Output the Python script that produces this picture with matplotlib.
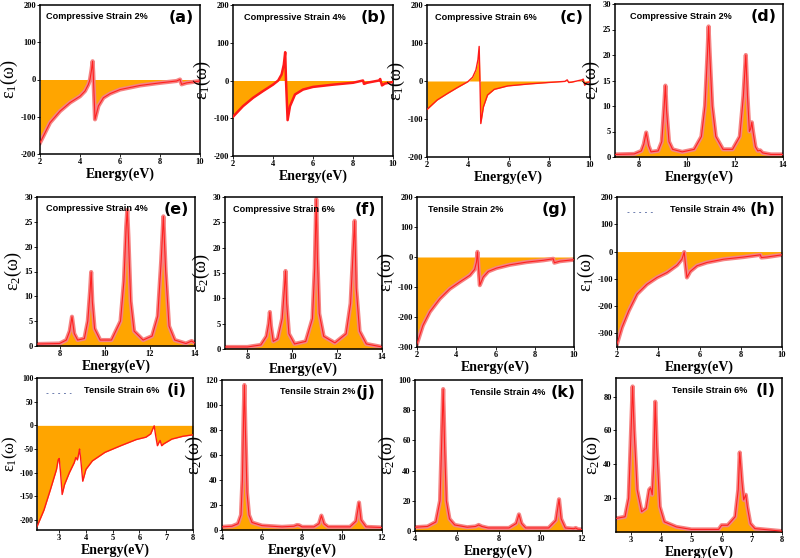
import matplotlib
matplotlib.use('Agg')
import matplotlib.pyplot as plt

plt.rcParams['font.family'] = ['Liberation Serif', 'DejaVu Serif']
plt.rcParams['mathtext.fontset'] = 'custom'
plt.rcParams['mathtext.rm'] = 'Liberation Serif'
plt.rcParams['mathtext.it'] = 'Liberation Serif'
plt.rcParams['axes.unicode_minus'] = False

# ---- data (energy in eV, dielectric function) ----
# (a) compressive 2%, eps1
a_x = [2, 2.5, 3, 3.5, 4, 4.25, 4.42, 4.5, 4.58, 4.63, 4.66, 4.75, 4.92, 5.17, 5.5, 6, 7, 8, 8.83, 9.0, 9.08, 9.33, 10]
a_y = [-170, -116, -85, -62, -45, -31, -13, 0, 27, 49, 20, -107, -71, -49, -38, -27, -16, -9, -4, 0, -13, -9, -4]
# (b) compressive 4%, eps1
b_x = [2, 2.5, 3, 3.5, 4, 4.26, 4.43, 4.54, 4.61, 4.65, 4.73, 4.85, 5.1, 5.5, 6, 7, 8, 8.5, 8.55, 8.7, 9.3, 9.36, 9.45, 9.6, 10]
b_y = [-96, -68, -46, -28, -11, 0, 16, 42, 75, 0, -105, -68, -37, -24, -17, -11, -6, 0, -9, -6, 0, 4, -13, -8, -4]
# (c) compressive 6%, eps1
c_x = [2, 2.5, 3, 3.5, 4, 4.24, 4.4, 4.5, 4.56, 4.6, 4.64, 4.77, 4.97, 5.3, 5.96, 6.95, 7.94, 8.77, 8.88, 8.96, 9.1, 9.6, 9.67, 9.74, 9.84, 10]
c_y = [-75, -50, -33, -17, -2, 10, 29, 56, 91, 0, -112, -68, -37, -22, -13, -8, -4, -1, 3, -4, -3, 3, 5, -11, -4, -2]
# (d) compressive 2%, eps2
d_x = [7, 7.8, 8.1, 8.2, 8.3, 8.4, 8.5, 8.8, 8.95, 9.05, 9.1, 9.15, 9.25, 9.4, 9.8, 10.3, 10.6, 10.75, 10.85, 10.9,
       10.95, 11.05, 11.2, 11.5, 11.9, 12.2, 12.35, 12.45, 12.52, 12.6, 12.65, 12.7, 12.75, 12.85, 12.95, 13.05, 13.15, 13.5, 14]
d_y = [0.5, 0.6, 1.2, 2.5, 4.8, 2.2, 1.0, 1.2, 3.0, 10, 14, 9, 3, 1.5, 1.0, 1.5, 4, 10, 20, 25.6,
       20, 10, 4, 1.5, 1.5, 4, 12, 20, 12, 5, 5.5, 6.8, 5, 2, 1.2, 1.3, 0.8, 0.5, 0.5]
# (e) compressive 4%, eps2
e_x = [7, 8, 8.3, 8.45, 8.55, 8.65, 8.8, 9.1, 9.25, 9.35, 9.4, 9.45, 9.55, 9.8, 10.3, 10.7, 10.85, 10.95, 11.0,
       11.05, 11.15, 11.3, 11.7, 12.1, 12.35, 12.5, 12.6, 12.7, 12.85, 13.1, 13.6, 13.85, 14]
e_y = [0.4, 0.5, 1.2, 3, 5.9, 2.5, 1.2, 1.5, 5, 11, 14.9, 9, 3.5, 1.2, 1.2, 5, 13, 24, 27.4,
       22, 9, 3, 1.2, 2, 6, 17, 26.1, 15, 4, 1.2, 0.5, 1.0, 0.6]
# (f) compressive 6%, eps2
f_x = [7, 8, 8.6, 8.85, 8.95, 9.0, 9.05, 9.15, 9.35, 9.55, 9.65, 9.7, 9.75, 9.85, 10.1, 10.6, 10.9, 11.0, 11.07,
       11.12, 11.2, 11.4, 11.9, 12.4, 12.6, 12.72, 12.78, 12.85, 13.0, 13.3, 14]
f_y = [0.4, 0.4, 0.8, 2.5, 5, 7.3, 4.5, 1.5, 2, 6, 12, 15.4, 9, 3, 1, 1.5, 6, 16, 29.6,
       18, 7, 2.5, 1.2, 3, 9, 20, 25.3, 12, 3.5, 1, 0.4]
# (g) tensile 2%, eps1
g_x = [2, 2.3, 2.65, 3.16, 3.67, 4.18, 4.69, 4.94, 5.03, 5.08, 5.13, 5.2, 5.37, 5.63, 6.05, 6.73, 7.58, 8.43, 8.94, 9.0, 9.28, 10]
g_y = [-289, -228, -183, -139, -106, -83, -61, -41, -17, 17, -30, -94, -67, -48, -37, -26, -17, -11, -6, -19, -14, -9]
# (h) tensile 4%, eps1
h_x = [2, 2.24, 2.57, 2.97, 3.45, 3.94, 4.42, 4.91, 5.15, 5.26, 5.31, 5.39, 5.55, 5.88, 6.36, 7.17, 8.14, 8.95, 9.0, 9.27, 10]
h_y = [-339, -278, -217, -156, -120, -95, -77, -50, -28, -2, -40, -95, -73, -52, -40, -28, -20, -12, -22, -20, -12]
# (i) tensile 6%, eps1
i_x = [2.17, 2.43, 2.67, 2.9, 2.96, 3.0, 3.05, 3.11, 3.2, 3.38, 3.56, 3.62, 3.68, 3.74, 3.76, 3.81, 3.88, 4.0, 4.24,
       4.71, 5.3, 5.88, 6.24, 6.42, 6.5, 6.55, 6.6, 6.67, 6.73, 6.77, 6.83, 6.91, 7.21, 7.63, 8.0]
i_y = [-214, -179, -136, -93, -73, -70, -100, -146, -125, -100, -79, -68, -73, -57, -50, -75, -118, -93, -75,
       -57, -43, -30, -25, -18, -7, -1, -20, -43, -36, -32, -43, -39, -29, -23, -20]
# (j) tensile 2%, eps2
j_x = [4, 4.5, 4.8, 4.95, 5.02, 5.08, 5.12, 5.17, 5.25, 5.35, 5.5, 6, 7, 7.6, 7.75, 7.85, 8.0, 8.6, 8.85, 8.97,
       9.1, 9.3, 10.4, 10.7, 10.85, 10.95, 11.2, 12]
j_y = [2.5, 3, 5, 12, 40, 90, 116, 80, 30, 12, 6, 3.5, 2.5, 3, 4, 3.8, 2.5, 2.5, 5, 11.5,
       5, 2.5, 2.5, 7, 22, 8, 2.5, 2]
# (k) tensile 4%, eps2
k_x = [4, 4.6, 5.0, 5.2, 5.28, 5.35, 5.42, 5.5, 5.65, 5.9, 6.5, 6.9, 7.05, 7.2, 7.5, 8.5, 8.85, 8.98, 9.1, 9.3,
       10.4, 10.75, 10.9, 11.0, 11.2, 11.6, 11.7, 11.8, 12]
k_y = [2.5, 3, 6, 20, 60, 94, 55, 20, 8, 4, 2.5, 3, 4, 3, 2, 2, 5, 11, 5, 2,
       2, 7, 21, 8, 2, 1.5, 2, 1.2, 1]
# (l) tensile 6%, eps2
l_x = [2.5, 2.8, 2.92, 2.98, 3.05, 3.1, 3.2, 3.35, 3.5, 3.6, 3.65, 3.7, 3.75, 3.8, 3.85, 3.95, 4.1, 4.5, 5,
       5.9, 6.0, 6.2, 6.35, 6.45, 6.55, 6.6, 6.67, 6.73, 6.8, 6.85, 6.95, 7.1, 8]
l_y = [8, 9, 20, 50, 86, 60, 25, 12, 14, 25, 26, 22, 40, 77, 50, 15, 6, 3, 1.5,
       1.5, 4, 4, 7, 9, 25, 47, 30, 19, 22, 15, 5, 2, 0.5]

panels = [
    # tag, title, kind, x, y, xlim, xticks, ylim, yticks, line style, title x, box (l, r, t, b in px)
    ('a', 'Compressive Strain 2%', 1, a_x, a_y, (2, 10), [2, 4, 6, 8, 10], (-200, 200), [-200, -100, 0, 100, 200], 'halo', 0.04, (40, 200, 5, 154)),
    ('b', 'Compressive Strain 4%', 1, b_x, b_y, (2, 10), [2, 4, 6, 8, 10], (-200, 200), [-200, -100, 0, 100, 200], 'thick', 0.07, (233, 393, 5, 156)),
    ('c', 'Compressive Strain 6%', 1, c_x, c_y, (2, 10), [2, 4, 6, 8, 10], (-200, 200), [-200, -100, 0, 100, 200], 'thin', 0.05, (427, 590, 5, 157)),
    ('d', 'Compressive Strain 2%', 2, d_x, d_y, (7, 14), [8, 10, 12, 14], (0, 30), [0, 5, 10, 15, 20, 25, 30], 'halo', 0.09, (615, 783, 4, 157)),
    ('e', 'Compressive Strain 4%', 2, e_x, e_y, (7, 14), [8, 10, 12, 14], (0, 30), [0, 5, 10, 15, 20, 25, 30], 'halo', 0.06, (37, 195, 197, 346)),
    ('f', 'Compressive Strain 6%', 2, f_x, f_y, (7, 14), [8, 10, 12, 14], (0, 30), [0, 5, 10, 15, 20, 25, 30], 'halo', 0.05, (225, 382, 197, 349)),
    ('g', 'Tensile Strain 2%', 1, g_x, g_y, (2, 10), [2, 4, 6, 8, 10], (-300, 200), [-300, -200, -100, 0, 100, 200], 'halo', 0.07, (417, 574, 197, 347)),
    ('h', 'Tensile Strain 4%', 1, h_x, h_y, (2, 10), [2, 4, 6, 8, 10], (-350, 200), [-300, -200, -100, 0, 100, 200], 'halo', 0.32, (617, 782, 197, 347)),
    ('i', 'Tensile Strain 6%', 1, i_x, i_y, (2.17, 8), [3, 4, 5, 6, 7, 8], (-221, 100), [-200, -150, -100, -50, 0, 50, 100], 'thin', 0.30, (37, 193, 378, 530)),
    ('j', 'Tensile Strain 2%', 2, j_x, j_y, (4, 12), [4, 6, 8, 10, 12], (0, 120), [0, 20, 40, 60, 80, 100, 120], 'halo', 0.36, (222, 382, 380, 530)),
    ('k', 'Tensile Strain 4%', 2, k_x, k_y, (4, 12), [4, 6, 8, 10, 12], (0, 100), [0, 20, 40, 60, 80, 100], 'halo', 0.33, (415, 582, 380, 531)),
    ('l', 'Tensile Strain 6%', 2, l_x, l_y, (2.5, 8), [3, 4, 5, 6, 7, 8], (0, 91), [20, 40, 60, 80], 'halo', 0.34, (616, 782, 378, 532)),
]

W, H = 800, 558
fig = plt.figure(figsize=(W / 100, H / 100), dpi=100)

for tag, title, kind, x, y, xlim, xticks, ylim, yticks, style, tx, box in panels:
    l, r, t, b = box
    ax = fig.add_axes([l / W, 1 - b / H, (r - l) / W, (b - t) / H])
    ax.fill_between(x, y, 0, color='#ffa500', lw=0, zorder=1)
    if style == 'halo':
        ax.plot(x, y, color='#f58383', lw=3.0, solid_joinstyle='round', zorder=2)
        ax.plot(x, y, color='#ff2020', lw=0.8, zorder=3)
    elif style == 'thick':
        ax.plot(x, y, color='#ff1a1a', lw=1.8, zorder=3)
    else:
        ax.plot(x, y, color='#ff1a1a', lw=1.0, zorder=3)

    ax.set_xlim(*xlim)
    ax.set_ylim(*ylim)
    ax.set_xticks(xticks)
    ax.set_yticks(yticks)
    ax.tick_params(labelsize=6, length=2, width=0.6, pad=1)
    if tag == 'i':
        ax.tick_params(axis='y', labelsize=5.5, pad=0.5)
    for lab in ax.get_xticklabels() + ax.get_yticklabels():
        lab.set_fontweight('bold')
    for s in ax.spines.values():
        s.set_linewidth(1.1)

    ax.set_xlabel('Energy(eV)', fontsize=10, fontweight='bold', labelpad=1)
    ax.set_ylabel(r'$\varepsilon_%d(\omega)$' % kind, fontsize=12 if tag == 'i' else 13, labelpad=0)

    ax.text(tx, 0.95, title, transform=ax.transAxes, fontsize=6.6, fontweight='bold',
            family=['Liberation Sans'], va='top', ha='left')
    ax.text(0.96, 0.965, '(%s)' % tag, transform=ax.transAxes, fontsize=11.5, fontweight='bold',
            family=['DejaVu Sans'], va='top', ha='right')
    if tag in 'hi':
        ax.plot([0.06, 0.22], [0.9, 0.9], transform=ax.transAxes, ls=(0, (2, 4)), color='#7080b0', lw=0.7)

plt.savefig('out.png', dpi=100)
plt.close()
